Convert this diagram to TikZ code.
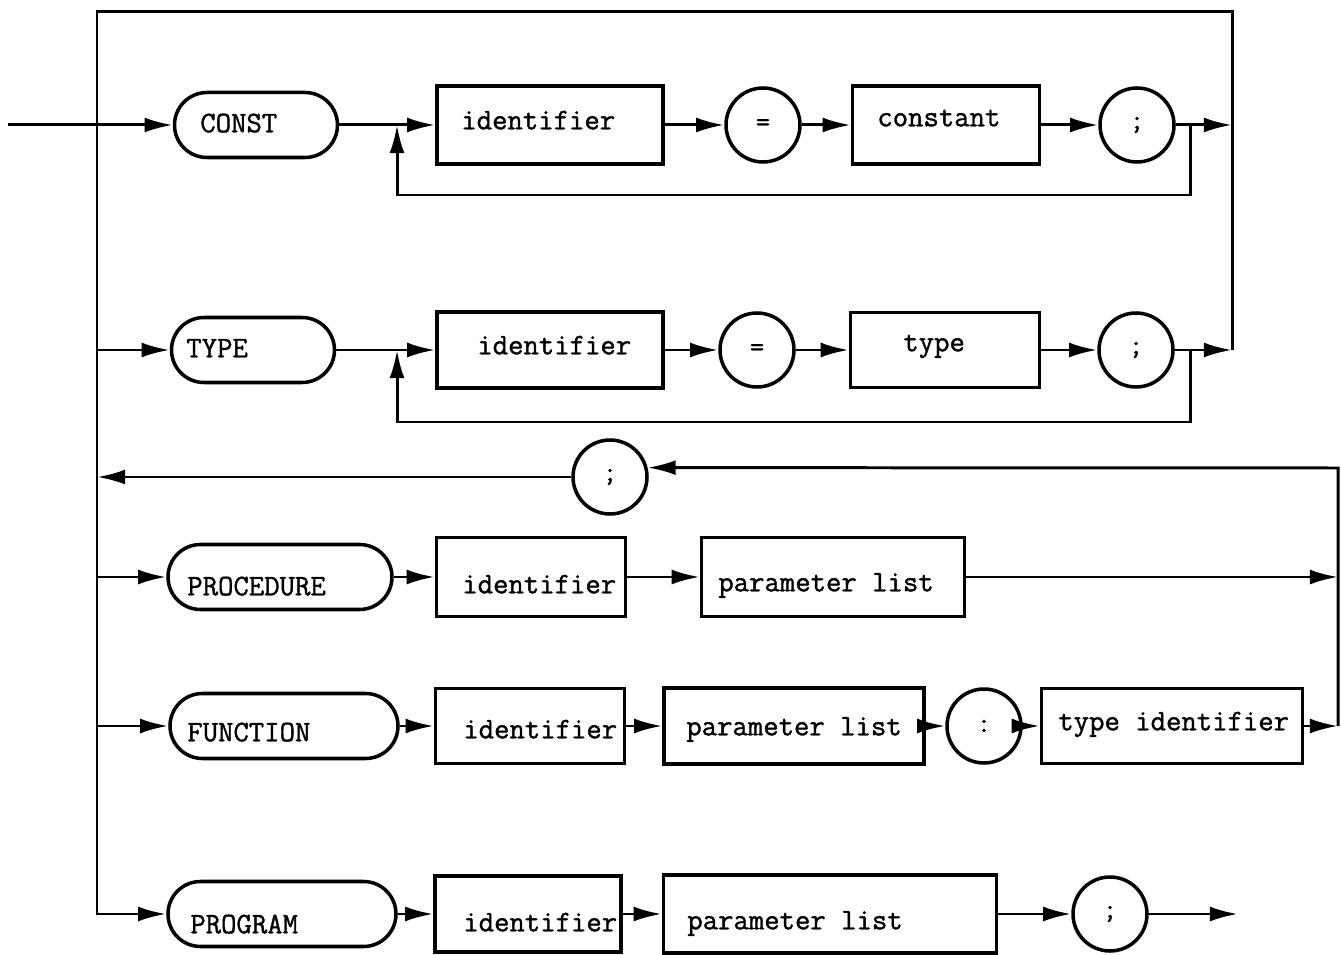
\documentclass[tikz,border=0pt]{standalone}
\usepackage{fontspec}
\newfontfamily\typewriter[FakeBold=1.2]{Latin Modern Mono}
\usetikzlibrary{arrows.meta,shapes.misc}

\tikzset{
  sz/.style 2 args={minimum width=#1*0.02cm, minimum height=#2*0.02cm},
  ln/.style={line width=1.7pt},
  arr/.style={ln, -{Latex[length=16pt,width=8.5pt]}},
  shp/.style={draw, line width=2pt, inner sep=0pt},
  box/.style={shp, rectangle},
  kw/.style={shp, rounded rectangle},
  circ/.style={shp, circle, minimum size=74*0.02cm, font=\typewriter\fontsize{16}{18}\selectfont},
  lbl/.style={anchor=west, inner sep=0pt, font=\typewriter\fontsize{17}{19}\selectfont,
              text height=0.6em, text depth=0pt},
}

\begin{document}
\begin{tikzpicture}[x=0.02cm, y=-0.02cm]
\useasboundingbox (0,0) rectangle (1341,955);

% ---------- CONST row ----------
\node[kw, sz={163}{65}] (kconst) at (256,125) {};
\node[lbl] (tconst) at (200,127) {CONST};
\node[box, sz={226}{78}] (id1) at (550,125) {};
\node[lbl] (tid1) at (461,124) {identifier};
\node[circ] (eq1) at (763,125) {=};
\node[box, sz={187}{78}] (con) at (946,125) {};
\node[lbl] (tcon) at (877,121) {constant};
\node[circ] (sc1) at (1137,125) {;};

\coordinate (entry) at (8,125);
\coordinate (j1) at (397,125);
\coordinate (b1) at (1190,125);
\coordinate (o1) at (1232,125);

% ---------- TYPE row ----------
\node[kw, sz={163}{65}] (ktype) at (253,350) {};
\node[lbl] (ttype) at (186,352) {TYPE};
\node[box, sz={226}{76}] (id2) at (550,350) {};
\node[lbl] (tid2) at (477,349) {identifier};
\node[circ] (eq2) at (757,350) {=};
\node[box, sz={189}{75}] (typ) at (945,350) {};
\node[lbl] (ttyp) at (903,346) {type};
\node[circ] (sc2) at (1136,350) {;};

\coordinate (j2) at (397,350);
\coordinate (b2) at (1190,350);
\coordinate (o2) at (1232,350);
\coordinate (tl) at (97,12);
\coordinate (l2) at (97,350);

% ---------- separator ----------
\node[circ] (sc3) at (610,477) {;};
\coordinate (rtop) at (1338,468);
\coordinate (l3) at (97,477);

% ---------- PROCEDURE row ----------
\node[kw, sz={224}{65}] (kproc) at (280,577) {};
\node[lbl] (tproc) at (187,590) {PROCEDURE};
\node[box, sz={189}{79}] (id3) at (531,577) {};
\node[lbl] (tid3) at (462,588) {identifier};
\node[box, sz={263}{79}] (par3) at (833,577) {};
\node[lbl] (tpar3) at (718,586) {parameter list};
\coordinate (l4) at (97,577);
\coordinate (o3) at (1338,577);

% ---------- FUNCTION row ----------
\node[kw, sz={228}{65}] (kfunc) at (284,726) {};
\node[lbl] (tfunc) at (187,736) {FUNCTION};
\node[box, sz={189}{75}] (id4) at (530,726) {};
\node[lbl] (tid4) at (463,733) {identifier};
\node[box, sz={260}{76}] (par4) at (794,726) {};
\node[lbl] (tpar4) at (686,730) {parameter list};
\node[circ] (col) at (984,726) {:};
\node[box, sz={261}{75}] (tid) at (1172,726) {};
\node[lbl] (ttid) at (1058,725) {type identifier};
\coordinate (l5) at (97,726);
\coordinate (o4) at (1338,726);

% ---------- PROGRAM row ----------
\node[kw, sz={228}{65}] (kprog) at (282,914) {};
\node[lbl] (tprog) at (190,928) {PROGRAM};
\node[box, sz={186}{76}] (id5) at (528,914) {};
\node[lbl] (tid5) at (463,926) {identifier};
\node[box, sz={333}{78}] (par5) at (830,914) {};
\node[lbl] (tpar5) at (687,924) {parameter list};
\node[circ] (sc5) at (1110,914) {;};
\coordinate (o5) at (1238,914);

% ---------- connectors ----------
% CONST declarations
\draw[arr] (entry) -- (kconst.west);
\draw[ln] (kconst.east) -- (j1);
\draw[arr] (j1) -- (id1.west);
\draw[arr] (id1.east) -- (eq1.west);
\draw[arr] (eq1.east) -- (con.west);
\draw[arr] (con.east) -- (sc1.west);
\draw[arr] (sc1.east) -- (o1);
\draw[arr] (b1) -- ++(0,70) -| (j1);

% TYPE declarations
\draw[arr] (l2) -- (ktype.west);
\draw[ln] (ktype.east) -- (j2);
\draw[arr] (j2) -- (id2.west);
\draw[arr] (id2.east) -- (eq2.west);
\draw[arr] (eq2.east) -- (typ.west);
\draw[arr] (typ.east) -- (sc2.west);
\draw[arr] (sc2.east) -- (o2);
\draw[arr] (b2) -- ++(0,72) -| (j2);

% outer loop: right side, over the top, down the left side
\draw[arr] (o2) |- (tl) |- (kprog.west);

% procedure / function heading return loop
\draw[arr] (o4) -- (rtop) -- (sc3.14);
\draw[arr] (sc3.west) -- (l3);

% PROCEDURE heading
\draw[arr] (l4) -- (kproc.west);
\draw[arr] (kproc.east) -- (id3.west);
\draw[arr] (id3.east) -- (par3.west);
\draw[arr] (par3.east) -- (o3);

% FUNCTION heading
\draw[arr] (l5) -- (kfunc.west);
\draw[arr] (kfunc.east) -- (id4.west);
\draw[arr] (id4.east) -- (par4.west);
\draw[arr] (par4.east) -- (col.west);
\draw[arr] (col.east) -- (tid.west);
\draw[arr] (tid.east) -- (o4);

% PROGRAM heading
\draw[arr] (kprog.east) -- (id5.west);
\draw[arr] (id5.east) -- (par5.west);
\draw[arr] (par5.east) -- (sc5.west);
\draw[arr] (sc5.east) -- (o5);
\end{tikzpicture}
\end{document}
